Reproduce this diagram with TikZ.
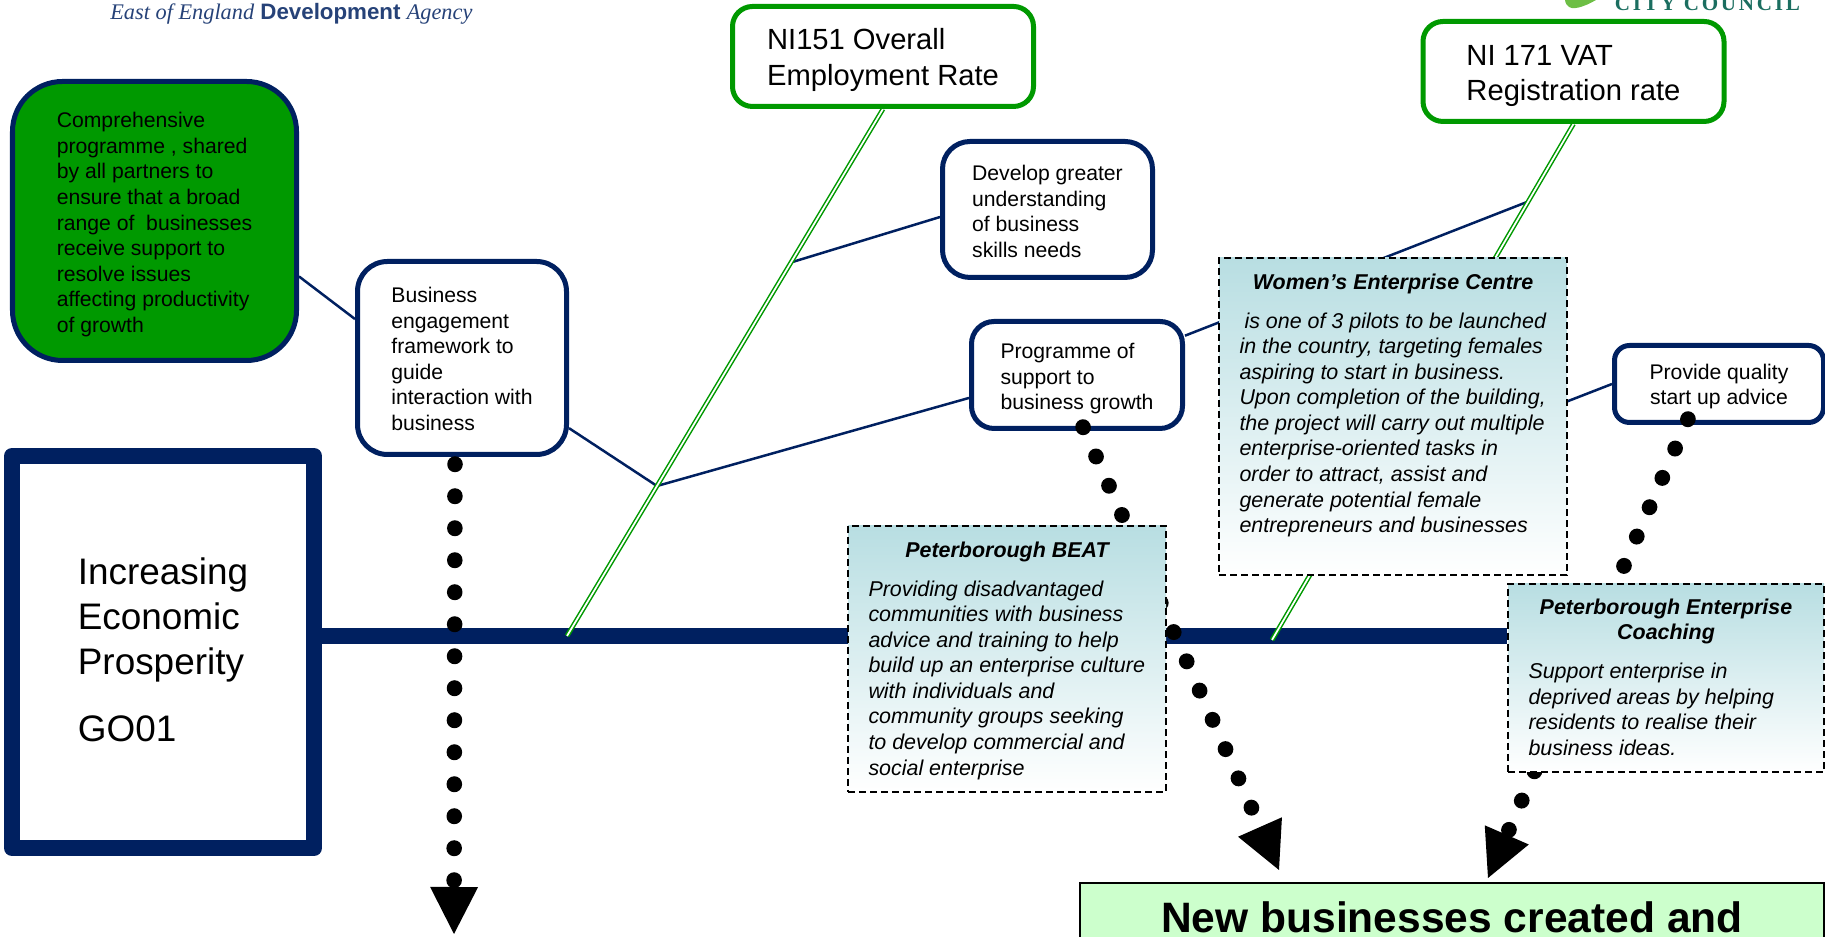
\documentclass[tikz,border=0pt]{standalone}
\usepackage{fontspec}
\setmainfont{Liberation Sans}
\newfontfamily\logoserif{Liberation Serif}
\usepackage{xcolor}
\usetikzlibrary{arrows.meta, backgrounds}

\definecolor{navyline}{HTML}{002060}
\definecolor{ningreen}{HTML}{009900}
\definecolor{paleteal}{HTML}{B8DEE2}
\definecolor{palegreen}{HTML}{CCFFCC}
\definecolor{logoteal}{HTML}{1B6E60}
\definecolor{logoleaf}{HTML}{6DBE45}

\newcommand{\infotext}[3]{\parbox[c][#2][t]{#1}{\raggedright #3}}
\newcommand{\infohead}[1]{{\centering\bfseries #1\par}\vspace{.27cm}}

\begin{document}
\begin{tikzpicture}[
    roundbox/.style={rectangle, draw=navyline, line width=.1cm, fill=white, align=left, font=\fontsize{12.05}{14.55}\selectfont},
    nibox/.style={rectangle, rounded corners=.4cm, draw=ningreen, line width=.1cm, fill=white, align=left, minimum width=6.02cm, minimum height=2cm, font=\fontsize{16.6}{20.2}\selectfont},
    infobox/.style={rectangle, draw=black, line width=.03cm, dash pattern=on .14cm off .08cm, top color=paleteal, bottom color=white, inner xsep=.41cm, inner ysep=.31cm, font=\fontsize{12.2}{14.55}\selectfont\itshape},
    branch/.style={draw=navyline, line width=.05cm},
    niline/.style={draw=ningreen, line width=.03cm, double=white, double distance=.035cm},
    dotarrow/.style={line width=.31cm, line cap=round, dash pattern=on .01cm off .63cm, -{Triangle[length=.94cm, width=.96cm, line width=0pt]}}
]
\useasboundingbox (0,0) rectangle (36.5,18.74);

% Logos
\node[anchor=base west, inner sep=0, text=navyline!85!white, font=\fontsize{12.7}{14}\selectfont] (eeda) at (2.2,18.34) {{\logoserif\itshape East of England} \textbf{Development} {\logoserif\itshape Agency}};
\node[anchor=base west, inner sep=0, text=logoteal, font=\fontsize{12}{14}\selectfont\logoserif\bfseries\addfontfeatures{LetterSpace=13}] (council) at (32.29,18.53) {CITY COUNCIL};
\fill[logoleaf] (31.3,18.74) .. controls (31.32,18.6) and (31.42,18.56) .. (31.52,18.58) .. controls (31.66,18.6) and (31.82,18.68) .. (31.92,18.74) -- cycle;

% Outcome boxes
\node[nibox] (ni151) at (17.66,17.61) {\rule{0pt}{.56cm}NI151 Overall\\Employment Rate};
\node[nibox] (ni171) at (31.47,17.31) {\rule{0pt}{.58cm}NI 171 VAT\\Registration rate};

% Objective
\node[rectangle, draw=navyline, line width=.32cm, line join=round, fill=white, align=left, minimum width=6.04cm, minimum height=7.84cm, font=\fontsize{21}{25.6}\selectfont] (goal) at (3.26,5.7) {Increasing\\Economic\\Prosperity\\[.44cm]GO01\rule[-.08cm]{0pt}{0pt}};

% Actions
\node[roundbox, rounded corners=1cm, fill=ningreen, minimum width=5.68cm, minimum height=5.58cm] (comp) at (3.09,14.32) {\rule{0pt}{.45cm}Comprehensive\\programme , shared\\by all partners to\\ensure that a broad\\range of\ \ businesses\\receive support to\\resolve issues\\affecting productivity\\of growth};
\node[roundbox, rounded corners=.6cm, minimum width=4.18cm, minimum height=3.86cm] (engage) at (9.24,11.58) {\rule{0pt}{.35cm}Business\\engagement\\framework to\\guide\\interaction with\\business};
\node[roundbox, rounded corners=.55cm, minimum width=4.2cm, minimum height=2.72cm] (develop) at (20.95,14.55) {\rule{0pt}{.39cm}Develop greater\\understanding\\of business\\skills needs};
\node[roundbox, rounded corners=.45cm, minimum width=4.22cm, minimum height=2.14cm] (programme) at (21.54,11.24) {\rule{0pt}{.45cm}Programme of\\support to\\business growth};
\node[roundbox, rounded corners=.3cm, align=center, minimum width=4.18cm, minimum height=1.54cm] (provide) at (34.38,11.06) {\rule{0pt}{.4cm}Provide quality\\start up advice};

% Free ends of the dotted arrows
\coordinate (engageend) at (9.08,.06);
\coordinate (beatend) at (25.58,1.34);
\coordinate (coachend) at (29.76,1.18);

% Dotted arrows
\draw[dotarrow] ([xshift=-.14cm,yshift=-.14cm]engage.south) -- (engageend);
\draw[dotarrow] ([xshift=.12cm,yshift=.08cm]programme.south) -- (beatend);
\draw[dotarrow] ([xshift=-.62cm,yshift=.12cm]provide.south) -- (coachend);

% Projects
\node[infobox] (women) at (27.86,10.41) {\infotext{6.14cm}{5.72cm}{\infohead{Women’s Enterprise Centre}\hspace*{.1cm}is one of 3 pilots to be launched\\in the country, targeting females\\aspiring to start in business.\\Upon completion of the building,\\the project will carry out multiple\\enterprise-oriented tasks in\\order to attract, assist and\\generate potential female\\entrepreneurs and businesses}};
\node[infobox] (beat) at (20.14,5.56) {\infotext{5.54cm}{4.7cm}{\infohead{Peterborough BEAT}Providing disadvantaged\\communities with business\\advice and training to help\\build up an enterprise culture\\with individuals and\\community groups seeking\\to develop commercial and\\social enterprise}};
\node[infobox, inner ysep=.29cm] (coach) at (33.32,5.18) {\infotext{5.5cm}{3.18cm}{\infohead{Peterborough Enterprise\\Coaching}Support enterprise in\\deprived areas by helping\\residents to realise their\\business ideas.}};

% Result
\node[rectangle, draw=black, line width=.04cm, fill=palegreen, anchor=north, minimum width=14.88cm, inner ysep=.38cm, text depth=1.5cm, font=\fontsize{24.2}{29}\selectfont\bfseries] (created) at (29.04,1.1) {New businesses created and};

% Joints
\coordinate (sp) at (11.34,6.02);
\coordinate (spb) at (25.44,5.94);
\coordinate (j1) at (13.14,9.02);
\coordinate (j2) at (15.85,13.5);
\coordinate (j3) at (30.54,14.7);

\begin{scope}[on background layer]
% Spine
\draw[draw=navyline, line width=.32cm] (goal.east |- sp) -- (coach.west |- sp);

% Branches
\draw[branch] (comp.-21) -- (engage.160);
\draw[branch] (engage) -- (j1);
\draw[branch] (programme.192) -- (j1);
\draw[branch] (develop.184) -- (j2);
\draw[branch] (programme.20) -- (j3);
\draw[branch] (provide.west) -- (women.5);

% Indicator lines
\draw[niline] (ni151.south) -- (sp);
\draw[niline] (ni171.south) -- (spb);
\end{scope}

\end{tikzpicture}
\end{document}
